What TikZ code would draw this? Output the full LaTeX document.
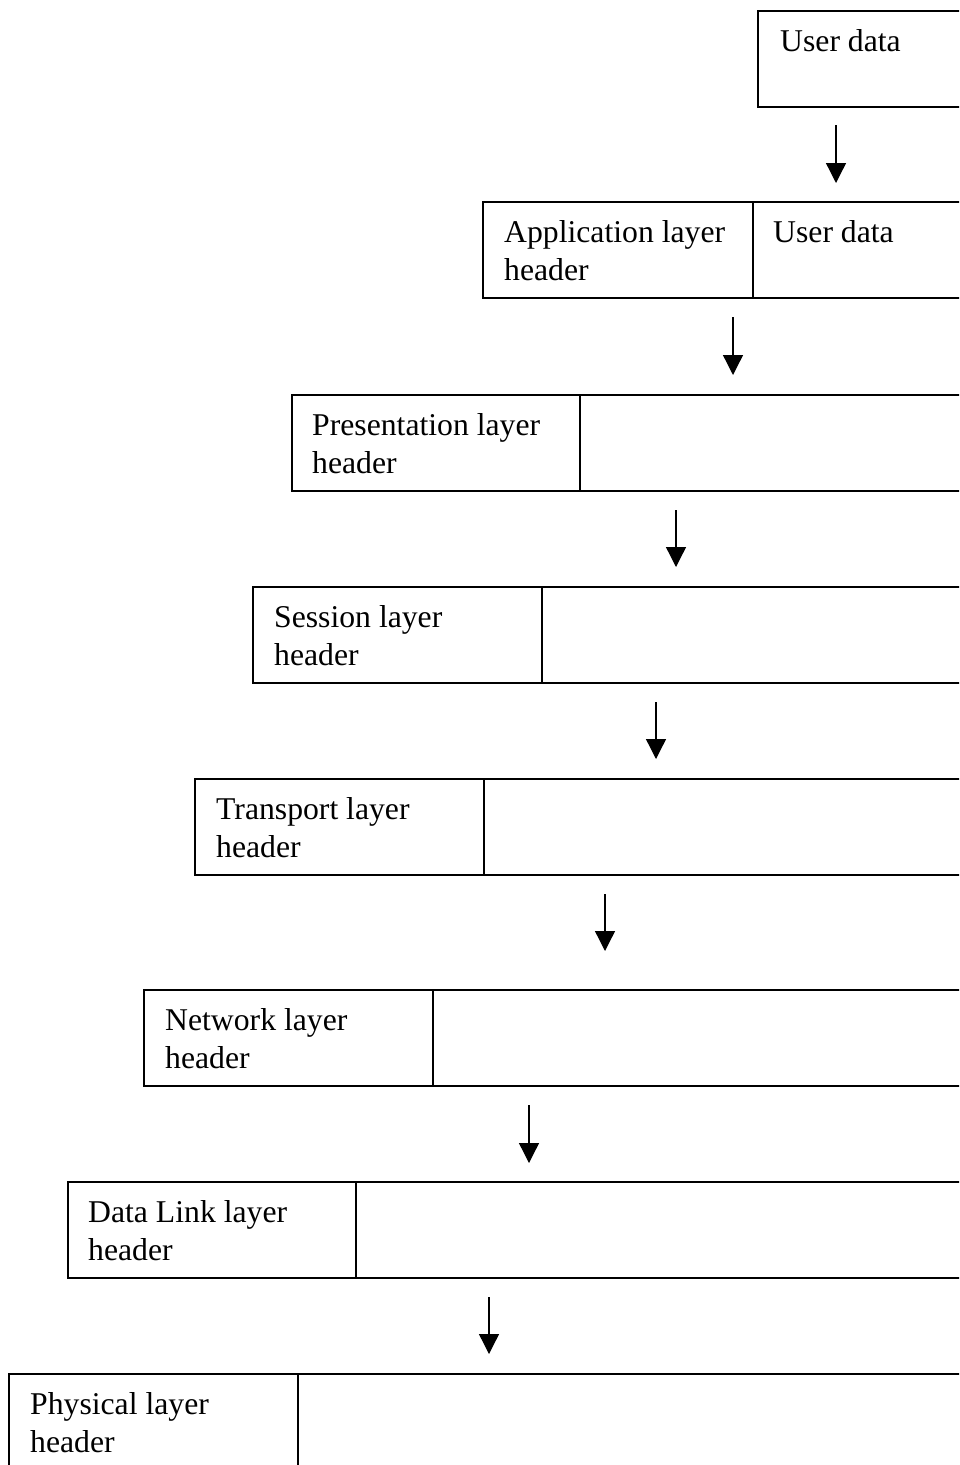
\documentclass[tikz,border=0pt]{standalone}
\usepackage{fontspec}
\setmainfont{Liberation Serif}
\usetikzlibrary{arrows.meta}
\begin{document}
\begin{tikzpicture}[x=1pt,y=-1pt,
  cell/.style={draw,line width=1.3pt,anchor=north west,inner sep=0pt,outer sep=0pt,minimum height=96pt},
  celltext/.style={anchor=north west,inner sep=0pt,align=left,font=\fontsize{31.7}{38}\selectfont},
  flow/.style={line width=1.3pt,-{Triangle[width=20pt,length=20pt]}}]
\useasboundingbox (0,0) rectangle (959,1465);
\clip (0,0) rectangle (959,1465);

% user data
\node[cell,minimum width=242pt] (ud) at (758,11) {};
\node[celltext] (udt) at (780,29) {User data};

% application layer
\node[cell,minimum width=270pt] (apph) at (483,202) {};
\node[cell,minimum width=247pt] (appd) at (apph.north east) {};
\node[celltext] (appt) at (504,220) {Application layer\\header};
\node[celltext] (appdt) at (773,220) {User data};

% presentation layer
\node[cell,minimum width=288pt] (preh) at (292,395) {};
\node[cell,minimum width=420pt] (pred) at (preh.north east) {};
\node[celltext] (pret) at (312,413) {Presentation layer\\header};

% session layer
\node[cell,minimum width=289pt] (sesh) at (253,587) {};
\node[cell,minimum width=460pt] (sesd) at (sesh.north east) {};
\node[celltext] (sest) at (274,605) {Session layer\\header};

% transport layer
\node[cell,minimum width=289pt] (trah) at (195,779) {};
\node[cell,minimum width=520pt] (trad) at (trah.north east) {};
\node[celltext] (trat) at (216,797) {Transport layer\\header};

% network layer
\node[cell,minimum width=289pt] (neth) at (144,990) {};
\node[cell,minimum width=570pt] (netd) at (neth.north east) {};
\node[celltext] (nett) at (165,1008) {Network layer\\header};

% data link layer
\node[cell,minimum width=288pt] (dlh) at (68,1182) {};
\node[cell,minimum width=650pt] (dld) at (dlh.north east) {};
\node[celltext] (dlt) at (88,1200) {Data Link layer\\header};

% physical layer
\node[cell,minimum width=289pt] (phh) at (9,1374) {};
\node[cell,minimum width=700pt] (phd) at (phh.north east) {};
\node[celltext] (pht) at (30,1392) {Physical layer\\header};

% arrows between the stages
\coordinate (a1s) at (836,125);  \coordinate (a1e) at (836,183);
\coordinate (a2s) at (733,317);  \coordinate (a2e) at (733,375);
\coordinate (a3s) at (676,510);  \coordinate (a3e) at (676,567);
\coordinate (a4s) at (656,702);  \coordinate (a4e) at (656,759);
\coordinate (a5s) at (605,894);  \coordinate (a5e) at (605,951);
\coordinate (a6s) at (529,1105); \coordinate (a6e) at (529,1163);
\coordinate (a7s) at (489,1297); \coordinate (a7e) at (489,1354);
\draw[flow] (a1s) -- (a1e);
\draw[flow] (a2s) -- (a2e);
\draw[flow] (a3s) -- (a3e);
\draw[flow] (a4s) -- (a4e);
\draw[flow] (a5s) -- (a5e);
\draw[flow] (a6s) -- (a6e);
\draw[flow] (a7s) -- (a7e);
\end{tikzpicture}
\end{document}
